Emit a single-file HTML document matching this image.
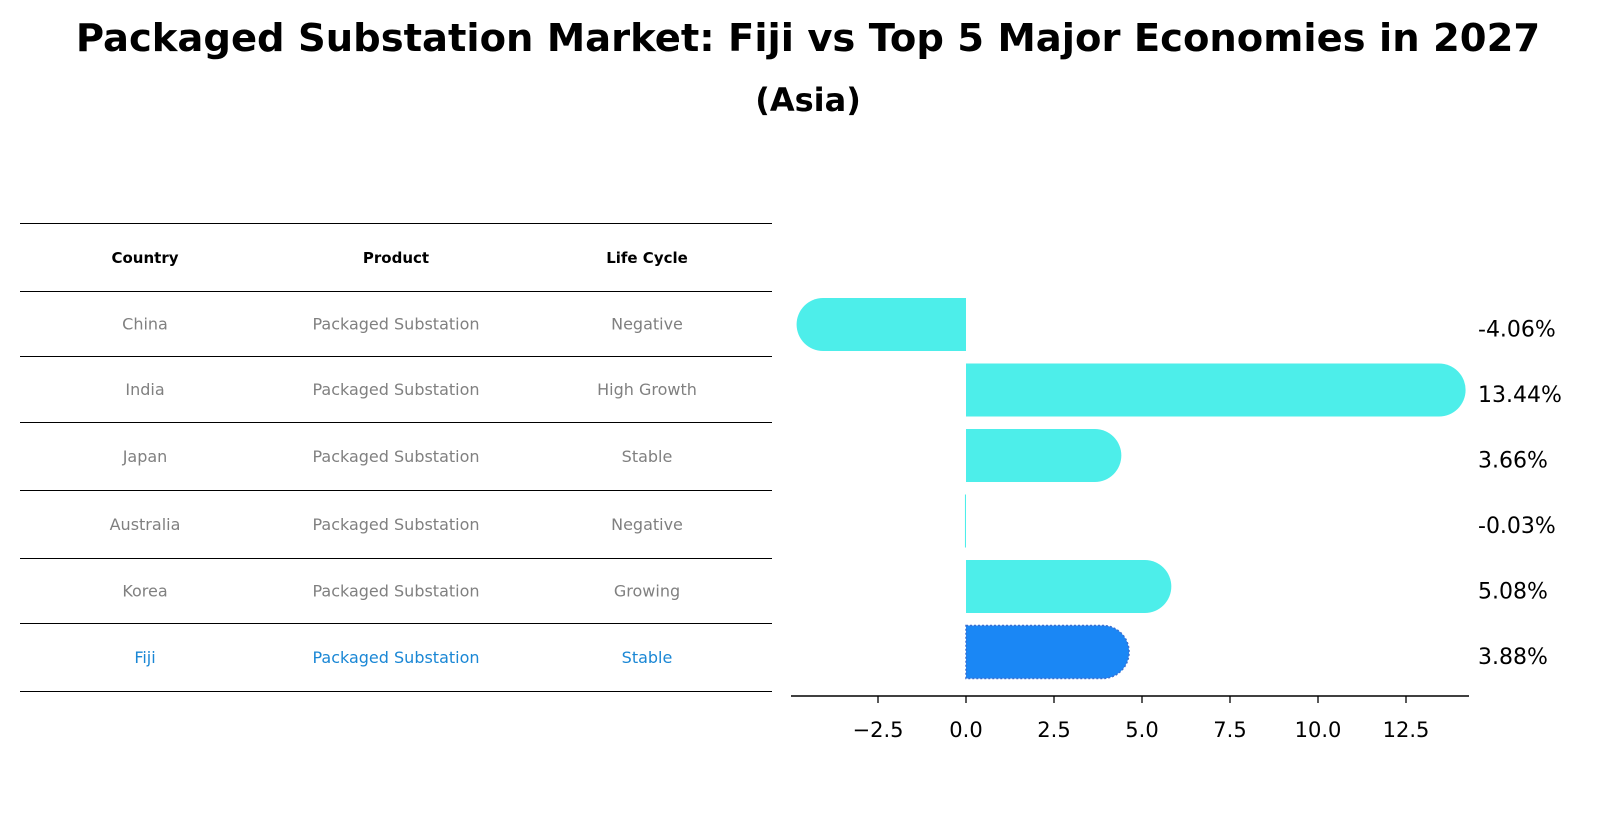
<!DOCTYPE html>
<html><head><meta charset="utf-8"><style>
body{margin:0;width:1604px;height:823px;background:#fff;font-family:"Liberation Sans","DejaVu Sans",sans-serif;overflow:hidden}
svg text{font-family:"DejaVu Sans","Liberation Sans",sans-serif}
</style></head><body>
<svg width="1604" height="823">
<text x="808" y="51" text-anchor="middle" font-size="38.5" font-weight="bold">Packaged Substation Market: Fiji vs Top 5 Major Economies in 2027</text>
<text x="808" y="111" text-anchor="middle" font-size="32" font-weight="bold">(Asia)</text>
<g id="table"></g>
<g id="bars"></g>
</svg>
<script>
const countries=["China","India","Japan","Australia","Korea","Fiji"];
const products=["Packaged Substation","Packaged Substation","Packaged Substation","Packaged Substation","Packaged Substation","Packaged Substation"];
const cycles=["Negative","High Growth","Stable","Negative","Growing","Stable"];
const values=[-4.06,13.44,3.66,-0.03,5.08,3.88];
const ticks=[-2.5,0,2.5,5,7.5,10,12.5];
const NS="http://www.w3.org/2000/svg";
function mk(p,t,a){const e=document.createElementNS(NS,t);for(const k in a)e.setAttribute(k,a[k]);p.appendChild(e);return e;}
const tb=document.getElementById('table');
const lines=[223,291,356,422,490,558,623,691];
lines.forEach((y,i)=>{const l=mk(tb,'line',{x1:20,x2:772,y1:y+0.5,y2:y+0.5,stroke:'#000','stroke-width':1,'shape-rendering':'crispEdges'});

});
const cx=[145,396,647];
["Country","Product","Life Cycle"].forEach((h,i)=>{const t=mk(tb,'text',{x:cx[i],y:263,'text-anchor':'middle','font-size':15,'font-weight':'bold'});t.textContent=h;

});
countries.forEach((c,r)=>{const y=(lines[r+1]+lines[r+2])/2+6;const col=c==="Fiji"?'#1a87d5':'#808080';
[c,products[r],cycles[r]].forEach((v,i)=>{const t=mk(tb,'text',{x:cx[i],y:y,'text-anchor':'middle','font-size':16,fill:col});t.textContent=v;

});});
const bg=document.getElementById('bars');
const x0=966,ppu=35.2;const X=v=>x0+v*ppu;
const rowY=i=>324.5+i*65.5;const h=53,r=26.5;
values.forEach((v,i)=>{const yc=rowY(i),fiji=countries[i]==="Fiji";
const col=fiji?'#1a87f5':'#4deeea';
const a=X(0),b=X(v);let d;
if(Math.abs(v)<0.1){d=`M${Math.min(a,b)} ${yc-h/2}h${Math.max(1,Math.abs(b-a))}v${h}h${-Math.max(1,Math.abs(b-a))}z`;}
else if(v>0){d=`M${a} ${yc-h/2}H${b}A${r} ${r} 0 0 1 ${b} ${yc+h/2}H${a}Z`;}
else{d=`M${a} ${yc-h/2}H${b}A${r} ${r} 0 0 0 ${b} ${yc+h/2}H${a}Z`;}
const p=mk(bg,'path',{d:d,fill:col});
if(fiji){p.setAttribute('stroke','#3a6fd0');p.setAttribute('stroke-dasharray','2 2');p.setAttribute('stroke-width','1.5');}


const t=mk(bg,'text',{x:1478,y:yc+12,'font-size':22});t.textContent=v.toFixed(2)+'%';

});
const ax=mk(bg,'line',{x1:791,x2:1469,y1:696,y2:696,stroke:'#000','stroke-width':1.5});


ticks.forEach(tv=>{const x=X(tv);mk(bg,'line',{x1:x,x2:x,y1:696,y2:703,stroke:'#000','stroke-width':1.3});
const t=mk(bg,'text',{x:x,y:737,'text-anchor':'middle','font-size':21});t.textContent=(tv<0?'\u2212':'')+Math.abs(tv).toFixed(1);

});
</script>
</body></html>
